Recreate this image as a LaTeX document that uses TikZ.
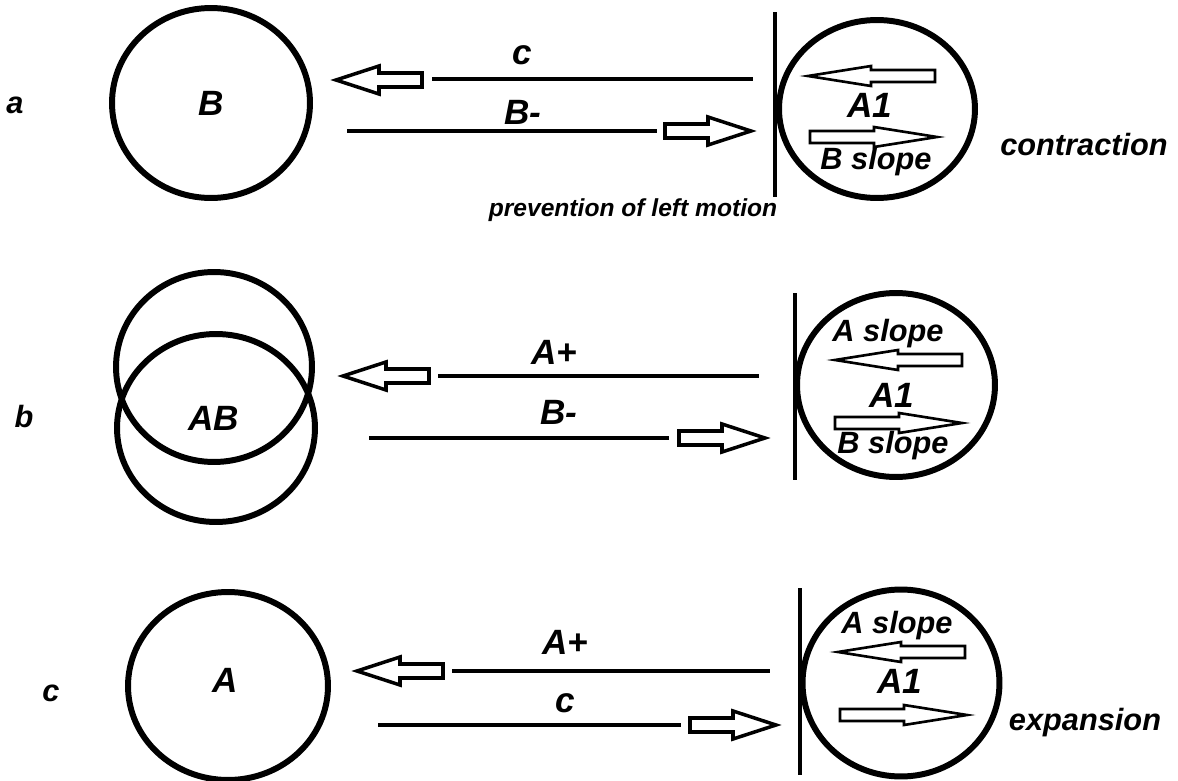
\documentclass[tikz,border=0pt]{standalone}
\usepackage{fontspec}
\setmainfont{Liberation Sans}
\usetikzlibrary{shapes.geometric}

\tikzset{
  ring/.style={draw,ellipse,line width=3.4pt,inner sep=0pt},
  wire/.style={line width=2.8pt},
  wall/.style={line width=2.2pt},
  txt/.style={inner sep=0pt,font=\bfseries\itshape\fontsize{20}{22}\selectfont},
  midtxt/.style={txt,font=\bfseries\itshape\fontsize{17.5}{20}\selectfont},
  smalltxt/.style={txt,font=\bfseries\itshape\fontsize{14}{16}\selectfont},
  pics/fatarrow/.style={code={
    \draw[line width=2pt,fill=white] (0,-7) -- (43,-7) -- (43,-14) -- (86,0) -- (43,14) -- (43,7) -- (0,7) -- cycle;
  }},
  pics/slimarrow/.style={code={
    \draw[line width=1.5pt,fill=white] (0,-6) -- (64,-6) -- (64,-10) -- (127,0) -- (64,10) -- (64,6) -- (0,6) -- cycle;
  }},
}

\begin{document}
\begin{tikzpicture}[x=0.02cm,y=-0.02cm]
\useasboundingbox (0,0) rectangle (1178,781);

% a : contraction
\node[midtxt] (rowa) at (15,105) {a};
\node[ring,txt,minimum width=3.96cm,minimum height=3.8cm] (cB) at (211,103) {B};
\pic[xscale=-1] at (422,80) {fatarrow};
\draw[wire] (432,79) -- (753,79);
\node[txt] (la1) at (522,55) {c};
\draw[wire] (347,131) -- (657,131);
\node[txt] (la2) at (523,112) {B-};
\pic at (665,131) {fatarrow};
\draw[wall] (775,12) -- (775,197);
\node[ring,minimum width=3.92cm,minimum height=3.56cm] (ca) at (877,109) {};
\pic[xscale=-1] at (935,76) {slimarrow};
\node[txt] (a1a) at (870,105) {A1};
\pic at (810,137) {slimarrow};
\node[midtxt] (bsa) at (876,162) {B slope};
\node[midtxt] (contr) at (1084,145) {contraction};
\node[smalltxt] (prev) at (633,210) {prevention of left motion};

% b
\node[midtxt] (rowb) at (24,417) {b};
\node[ring,minimum width=3.92cm,minimum height=3.8cm] (cA2) at (214,367) {};
\node[ring,minimum width=3.96cm,minimum height=3.76cm] (cB2) at (216,428) {};
\node[txt] (ab) at (214,418) {AB};
\pic[xscale=-1] at (429,376) {fatarrow};
\draw[wire] (438,376) -- (759,376);
\node[txt] (lb1) at (554,352) {A+};
\draw[wire] (369,438) -- (669,438);
\node[txt] (lb2) at (559,412) {B-};
\pic at (679,438) {fatarrow};
\draw[wall] (795,293) -- (795,480);
\node[ring,minimum width=3.96cm,minimum height=3.68cm] (cb) at (896,385) {};
\node[midtxt] (asb) at (888,334) {A slope};
\pic[xscale=-1] at (962,360) {slimarrow};
\node[txt] (a1b) at (892,395) {A1};
\pic at (835,423) {slimarrow};
\node[midtxt] (bsb) at (893,446) {B slope};

% c : expansion
\node[midtxt] (rowc) at (51,693) {c};
\node[ring,minimum width=4cm,minimum height=3.76cm] (cA) at (228,686) {};
\node[txt] (la) at (225,680) {A};
\pic[xscale=-1] at (443,671) {fatarrow};
\draw[wire] (452,671) -- (770,671);
\node[txt] (lc1) at (565,642) {A+};
\draw[wire] (378,725) -- (681,725);
\node[txt] (lc2) at (565,703) {c};
\pic at (690,725) {fatarrow};
\draw[wall] (800,588) -- (800,775);
\node[ring,minimum width=3.94cm,minimum height=3.74cm] (cc) at (901,683) {};
\node[midtxt] (asc) at (897,626) {A slope};
\pic[xscale=-1] at (965,652) {slimarrow};
\node[txt] (a1c) at (900,681) {A1};
\pic at (840,715) {slimarrow};
\node[midtxt] (expa) at (1085,723) {expansion};
\end{tikzpicture}
\end{document}
